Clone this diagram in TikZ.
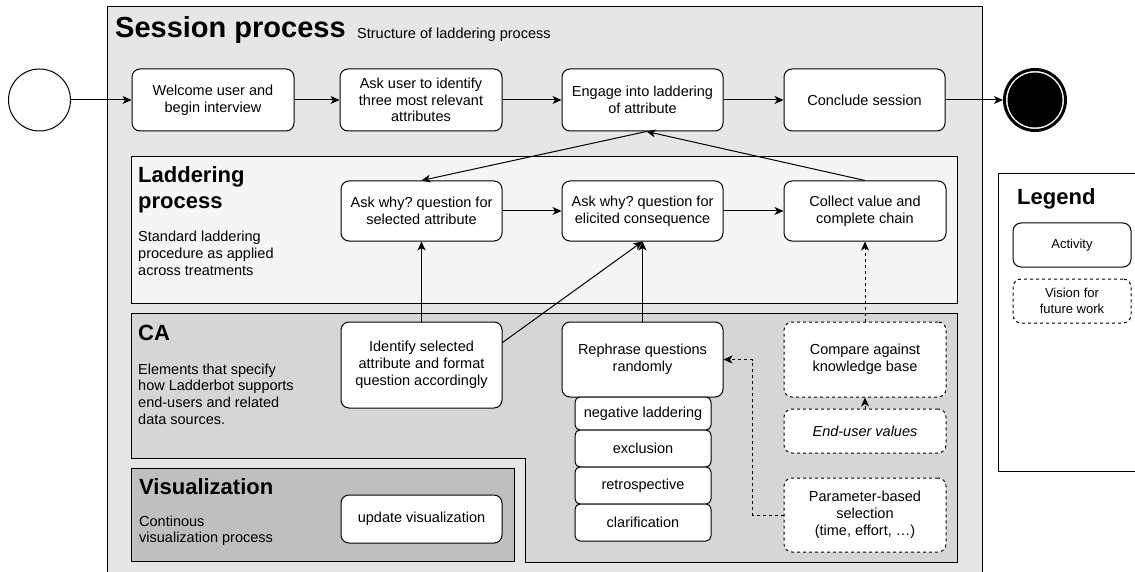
\documentclass[tikz,border=0pt]{standalone}
\usepackage{fontspec}
\setmainfont{Liberation Sans}
\usetikzlibrary{arrows.meta,calc}
\definecolor{sessfill}{HTML}{E6E6E6}
\definecolor{ladfill}{HTML}{F5F5F5}
\definecolor{cafill}{HTML}{D6D6D6}
\definecolor{visfill}{HTML}{BFBFBF}
\frenchspacing
\begin{document}
\begin{tikzpicture}[x=1pt,y=-1pt,
  every node/.style={font=\fontsize{14.5}{16.8}\selectfont},
  act/.style={draw, rounded corners=8pt, fill=white, align=center, inner sep=0pt, line width=1pt},
  subact/.style={act, rounded corners=5pt, minimum width=136, minimum height=37},
  dsh/.style={dash pattern=on 3pt off 3pt},
  vision/.style={act, dsh},
  txt/.style={inner sep=0pt, align=left},
  ttl/.style={txt, font=\bfseries\fontsize{22}{26}\selectfont},
  arr/.style={-{Stealth[length=9pt,width=8pt,inset=2.5pt]}, line width=1pt},
  box/.style={line width=1pt}
]
\fill[white] (0,0) rectangle (1135,572);
\useasboundingbox (0,0) rectangle (1135,572);

% containers
\fill[sessfill] (107,7) rectangle (982,575);
\draw[box] (107,575) -- (107,7) -- (982,7) -- (982,575);
\draw[box, fill=ladfill] (131,157) rectangle (957,303);
\draw[box, fill=cafill] (131,313) -- (957,313) -- (957,562) -- (525,562) -- (525,458) -- (131,458) -- cycle;
\draw[box, fill=visfill] (131,468) rectangle (514,561);
\fill[white] (998,174) rectangle (1140,471);
\draw[box] (1140,174) -- (998,174) -- (998,471) -- (1140,471);

% titles
\node[txt, anchor=base west, font=\bfseries\fontsize{29}{34}\selectfont] (sesstitle) at (115,38) {Session process};
\node[txt, anchor=base west] (sesssub) at (357,39) {Structure of laddering process};
\node[ttl, anchor=north west] (ladtitle) at (138,166) {Laddering\\process};
\node[txt, anchor=north west] (ladbody) at (138,231) {Standard laddering\\procedure as applied\\across treatments};
\node[ttl, anchor=base west] (catitle) at (138,340) {CA};
\node[txt, anchor=north west] (cabody) at (138,363.4) {Elements that specify\\how Ladderbot supports\\end-users and related\\data sources.};
\node[ttl, anchor=base west] (vistitle) at (139,494) {Visualization};
\node[txt, anchor=north west, font=\fontsize{14.5}{16}\selectfont] (visbody) at (139,516) {Continous\\visualization process};
\node[ttl, anchor=base west] (legtitle) at (1017,205) {Legend};

% session row
\node[circle, draw, fill=white, line width=1pt, minimum size=62, inner sep=0pt] (start) at (39.5,100) {};
\node[act, minimum width=162, minimum height=62] (welcome) at (213,100) {Welcome user and\\begin interview};
\node[act, minimum width=162, minimum height=62] (askuser) at (421,100) {Ask user to identify\\three most relevant\\attributes};
\node[act, minimum width=161, minimum height=62] (engage) at (642.5,100) {Engage into laddering\\of attribute};
\node[act, minimum width=161, minimum height=62] (conclude) at (864.5,100) {Conclude session};
\node[circle, draw=black, fill=white, line width=3pt, minimum size=61, inner sep=0pt] (endnode) at (1035,100) {};
\fill[black] (endnode.center) circle (27.5);

% laddering row
\node[act, minimum width=161, minimum height=60] (askattr) at (421.5,211) {Ask why? question for\\selected attribute};
\node[act, minimum width=161, minimum height=60] (askcons) at (642.5,211) {Ask why? question for\\elicited consequence};
\node[act, minimum width=162, minimum height=60] (collect) at (865,211) {Collect value and\\complete chain};

% CA
\node[act, minimum width=161, minimum height=86] (identify) at (421.5,365) {Identify selected\\attribute and format\\question accordingly};
\node[act, minimum width=161, minimum height=75] (rephrase) at (642.5,359.5) {Rephrase questions\\randomly};
\node[subact, minimum height=33] (neg) at (643,413.5) {negative laddering};
\node[subact] (excl) at (643,448.5) {exclusion};
\node[subact] (retro) at (643,485.5) {retrospective};
\node[subact] (clar) at (643,522.5) {clarification};
\node[vision, minimum width=162, minimum height=75] (compare) at (865,359.5) {Compare against\\knowledge base};
\node[vision, minimum width=162, minimum height=44] (enduser) at (865,431) {\itshape End-user values};
\node[vision, minimum width=162, minimum height=74] (param) at (865,515) {Parameter-based\\selection\\(time, effort, …)};

% visualization
\node[act, minimum width=161, minimum height=48] (update) at (421.5,519) {update visualization};

% legend
\node[act, minimum width=118, minimum height=44, font=\fontsize{13}{15.5}\selectfont] (legact) at (1072,245) {Activity};
\node[vision, minimum width=118, minimum height=44, font=\fontsize{13}{15.5}\selectfont] (legvis) at (1072,301) {Vision for\\future work};

% connectors
\draw[arr] (start) -- (welcome);
\draw[arr] (welcome) -- (askuser);
\draw[arr] (askuser) -- (engage);
\draw[arr] (engage) -- (conclude);
\draw[arr] (conclude) -- (endnode);
\draw[arr] ($(engage.south)+(4,0)$) -- (askattr.north);
\draw[arr] (collect.north) -- ($(engage.south)+(4,0)$);
\draw[arr] (askattr) -- (askcons);
\draw[arr] (askcons) -- (collect);
\draw[arr] (identify.north) -- (askattr.south);
\coordinate (idr) at ($(identify.north east)+(0,21)$);
\draw[arr] (idr) -- (askcons.south);
\draw[arr] (rephrase.north) -- (askcons.south);
\draw[arr, dsh] (compare.north) -- (collect.south);
\draw[arr, dsh] (enduser.north) -- (compare.south);
\draw[arr, dsh] (param.west) -- ++(-31,0) |- (rephrase.east);
\end{tikzpicture}
\end{document}
